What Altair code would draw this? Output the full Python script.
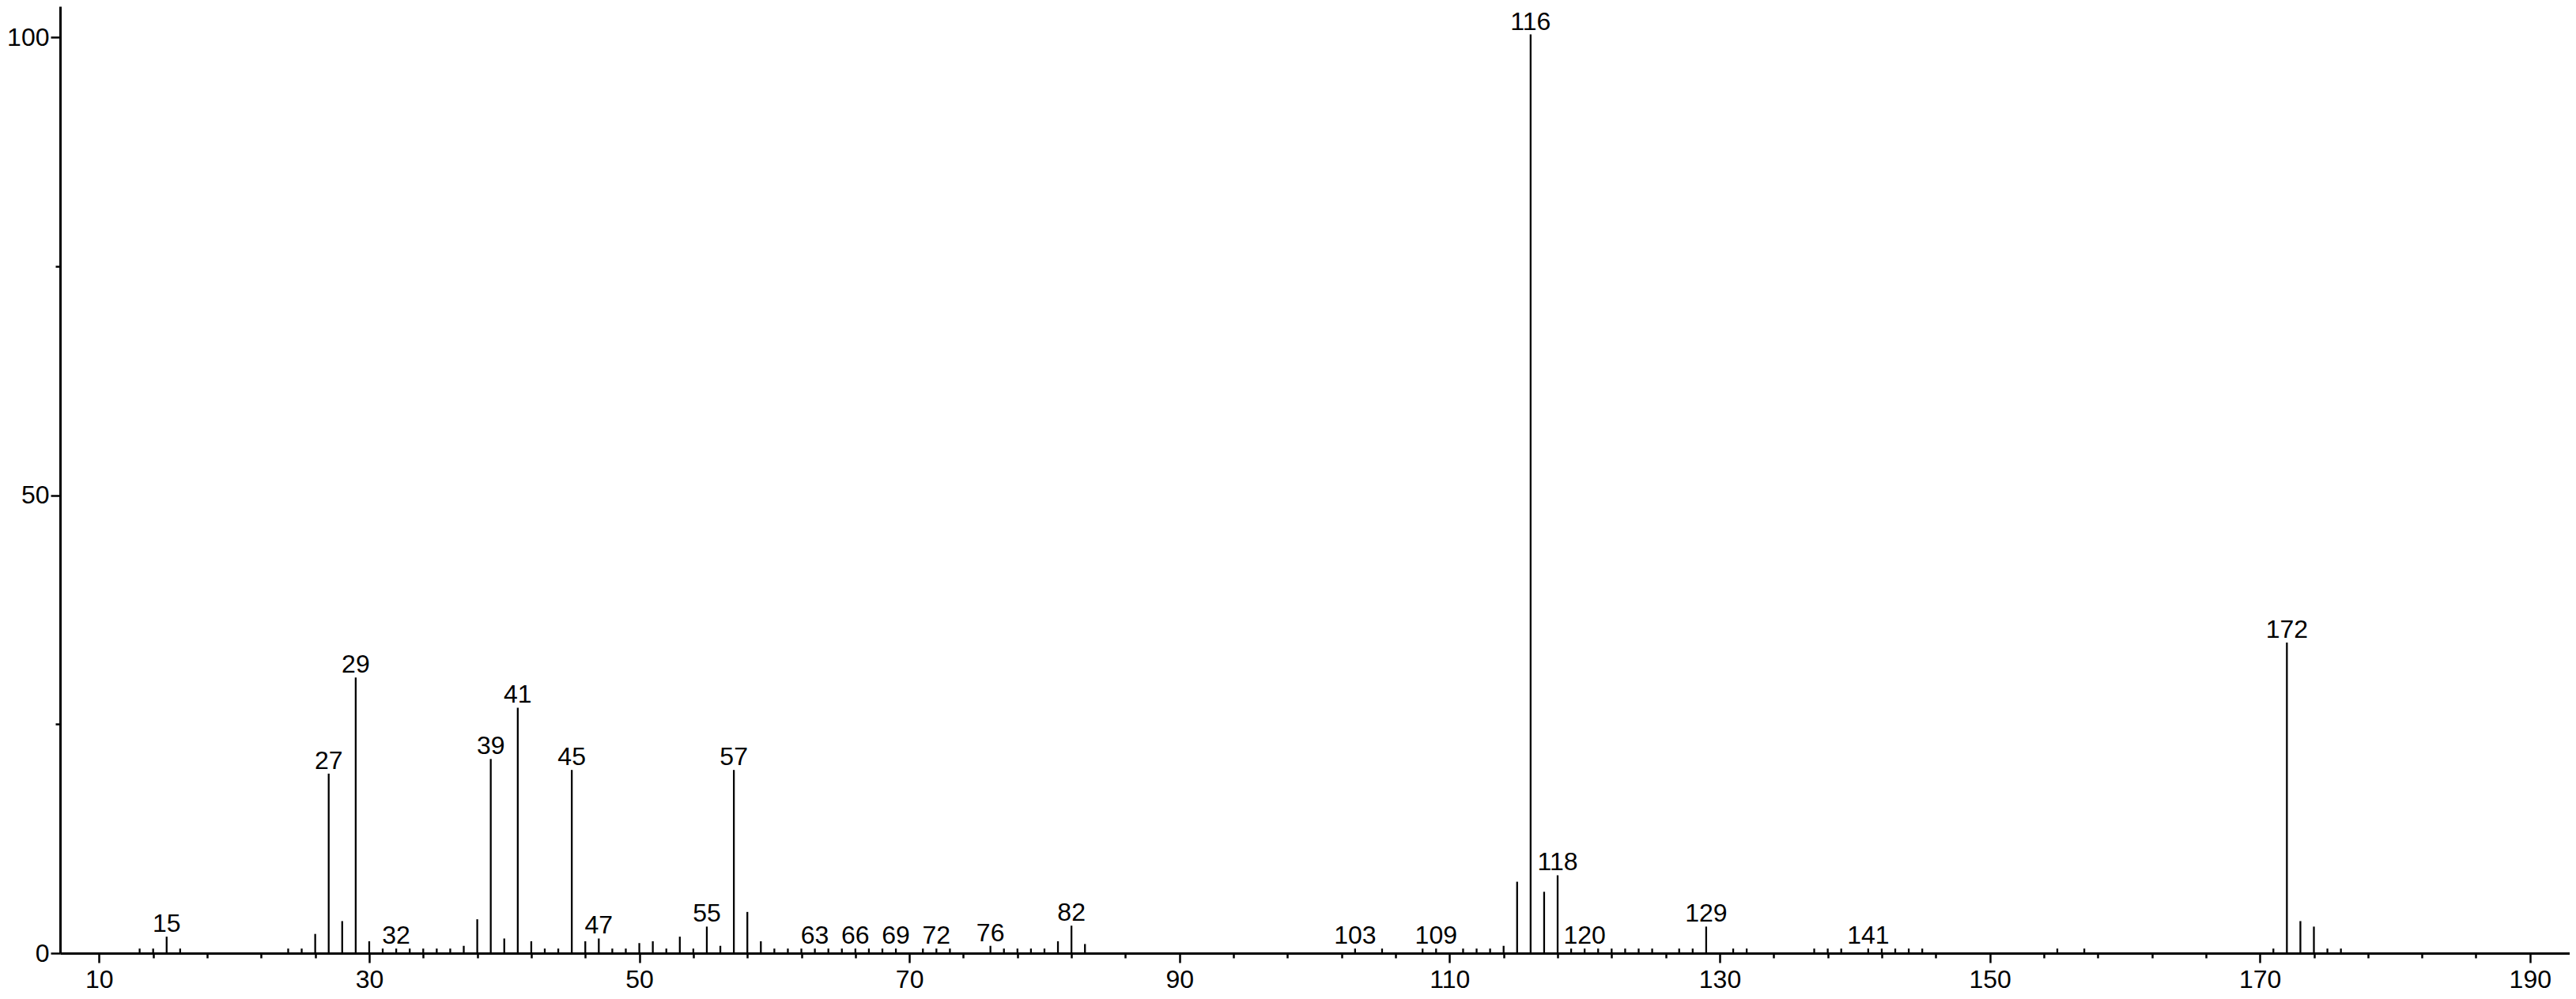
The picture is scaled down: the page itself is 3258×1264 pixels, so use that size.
import altair as alt
import pandas as pd

# m/z values and relative intensities
mz = [13, 14, 15, 16, 24, 25, 26, 27, 28, 29, 30, 31, 32, 33, 34, 35, 36, 37, 38, 39,
      40, 41, 42, 43, 44, 45, 46, 47, 48, 49, 50, 51, 52, 53, 54, 55, 56, 57, 58, 59,
      60, 61, 62, 63, 64, 65, 66, 67, 68, 69, 71, 72, 73, 76, 77, 78, 79, 80, 81, 82,
      83, 103, 105, 108, 109, 111, 112, 113, 114, 115, 116, 117, 118, 119, 120, 121,
      122, 123, 124, 125, 127, 128, 129, 131, 132, 137, 138, 139, 141, 142, 143, 144,
      145, 155, 157, 171, 172, 173, 174, 175, 176]
intensity = [0.5, 0.5, 1.8, 0.5, 0.5, 0.5, 2.1, 19.6, 3.5, 30.1, 1.3, 0.5, 0.5, 0.5, 0.5, 0.5, 0.5, 0.8, 3.7, 21.2,
             1.6, 26.8, 1.3, 0.5, 0.5, 20.0, 1.3, 1.6, 0.5, 0.5, 1.1, 1.3, 0.5, 1.8, 0.5, 2.9, 0.8, 20.0, 4.5, 1.3,
             0.5, 0.5, 0.5, 0.5, 0.5, 0.5, 0.5, 0.5, 0.5, 0.5, 0.5, 0.5, 0.5, 0.8, 0.5, 0.5, 0.5, 0.5, 1.3, 3.0,
             1.0, 0.5, 0.5, 0.5, 0.5, 0.5, 0.5, 0.5, 0.8, 7.8, 100.3, 6.7, 8.5, 0.5, 0.5, 0.5,
             0.5, 0.5, 0.5, 0.5, 0.5, 0.5, 2.9, 0.5, 0.5, 0.5, 0.5, 0.5, 0.5, 0.5, 0.5, 0.5,
             0.5, 0.5, 0.5, 0.5, 33.9, 3.5, 2.9, 0.5, 0.5]
labeled = [15, 27, 29, 32, 39, 41, 45, 47, 55, 57, 63, 66, 69, 72, 76, 82,
           103, 109, 116, 118, 120, 129, 141, 172]

x_tick_values = list(range(10, 193, 2))
y_tick_values = [0, 25, 50, 75, 100]

df = pd.DataFrame({"mz": mz, "intensity": intensity})
df["label"] = df["mz"].apply(lambda v: str(v) if v in labeled else "")

FONT = "Liberation Sans"

x_scale = alt.Scale(domain=[7.11, 192.94], nice=False, zero=False)
y_scale = alt.Scale(domain=[0, 103.37], nice=False, zero=False)

x_axis = alt.Axis(
    values=x_tick_values,
    labelExpr="datum.value % 10 === 0 ? datum.label : ''",
    tickSize={"condition": {"test": "datum.value % 10 === 0", "value": 12}, "value": 6},
    tickWidth=2.5, tickColor="black",
    domainColor="black", domainWidth=3,
    labelFont=FONT, labelFontSize=32, labelColor="black", labelPadding=6,
    labelOverlap=False, labelFlush=False, grid=False, title=None,
)
y_axis = alt.Axis(
    values=y_tick_values,
    labelExpr="datum.value % 50 === 0 ? datum.label : ''",
    tickSize={"condition": {"test": "datum.value % 50 === 0", "value": 12}, "value": 6},
    tickWidth=2.5, tickColor="black",
    domainColor="black", domainWidth=3,
    labelFont=FONT, labelFontSize=32, labelColor="black", labelPadding=2,
    labelOverlap=False, labelFlush=False, grid=False, title=None,
)

base = alt.Chart(df)

peaks = base.mark_rule(color="black", strokeWidth=2.3).encode(
    x=alt.X("mz:Q", scale=x_scale, axis=x_axis),
    y=alt.Y("intensity:Q", scale=y_scale, axis=y_axis),
    y2=alt.datum(0),
)

labels = base.transform_filter("datum.label != ''").mark_text(
    font=FONT, fontSize=32, color="black", baseline="alphabetic", align="center", dy=-6
).encode(
    x=alt.X("mz:Q", scale=x_scale),
    y=alt.Y("intensity:Q", scale=y_scale),
    text="label:N",
)

chart = alt.layer(peaks, labels).properties(
    width=3174, height=1198,
    autosize=alt.AutoSizeParams(type="none"),
    padding={"left": 68, "top": 0, "right": 0, "bottom": 50},
    background="white",
).configure_view(stroke=None)

chart.save("out.html", embed_options={"renderer": "svg", "actions": False})
